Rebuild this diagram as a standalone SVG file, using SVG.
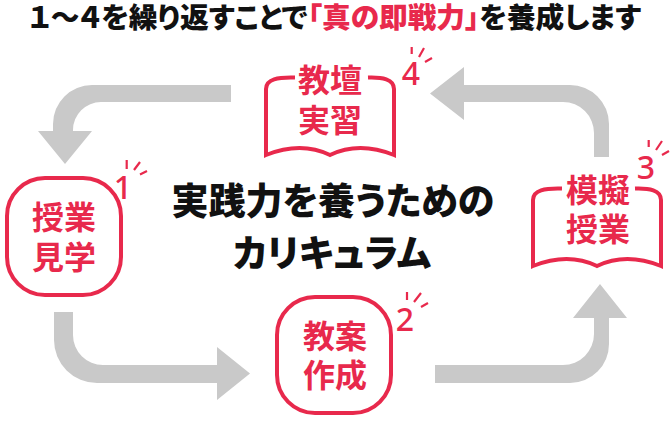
<svg xmlns="http://www.w3.org/2000/svg" width="671" height="421" viewBox="0 0 671 421">
<style>
text{font-family:"Noto Sans CJK JP","Noto Sans",sans-serif;text-anchor:middle}
.t{font-weight:900;font-size:28.700px;fill:#111;font-feature-settings:"palt"}
.c{font-weight:900;font-size:37px;fill:#111;font-feature-settings:"palt"}
.n{font-weight:700;font-size:32px;fill:#e8294c}
.d{font-family:"Noto Sans","Liberation Sans",sans-serif;font-weight:500;font-size:32px;fill:#e8294c}
.box{fill:#fff;stroke:#e8294c;stroke-width:4}
.book{fill:none;stroke:#e8294c;stroke-width:4}
.s{fill:none;stroke:#e8294c;stroke-width:2.2}
.a{fill:#c9c9c9}
</style>
<defs>
<path id="bk" class="book" d="M562 188.500C545 188 533 190 533 200V266Q568 252 597 266Q626 252 661 266V200C661 190 649 188 635 188.500"/>
</defs>
<rect width="671" height="421" fill="#fff"/>
<text class="t" x="335" y="28">１～４を繰り返すことで<tspan fill="#e8294c">「真の即戦力」</tspan>を養成します</text>
<g id="connectors">
<path class="a" d="M231 85H92A39 39 0 0 0 53 124V131H38L65 164L92 131H73V130A28 28 0 0 1 101 102H231Z"/>
<path class="a" d="M54 312H73V335A30 30 0 0 0 103 365H217V347L250 373.500L217 400V383H97A43 43 0 0 1 54 340Z"/>
<path class="a" d="M435 365H563A31 31 0 0 0 594 334V318H573L600 284L627 318H609V344A39 39 0 0 1 570 383H435Z"/>
<path class="a" d="M430 93.500L464 67V85H570A39 39 0 0 1 609 124V157H594V133A31 31 0 0 0 563 102H464V120Z"/>
</g>
<g id="node1"><rect class="box" x="7" y="178" width="114" height="117" rx="38"/><text class="n" x="64" y="229">授業</text><text class="n" x="64" y="269">見学</text><text class="d" x="123" y="199">1</text><path class="s" d="M126.700 160V169M140 162L134 170M147 171L140 174.500"/></g>
<g id="node2"><rect class="box" x="277" y="297" width="114" height="116" rx="38"/><text class="n" x="335" y="348">教案</text><text class="n" x="335" y="387">作成</text><text class="d" x="405" y="331">2</text><path class="s" d="M407 292V300M421 293L414 302M428 303L421 307"/></g>
<g id="node3"><use href="#bk"/><text class="n" x="598" y="202">模擬</text><text class="n" x="598" y="241">授業</text><text class="d" x="646" y="179">3</text><path class="s" d="M648.700 140V147M662 141L656 150M669 151L662 155"/></g>
<g id="node4"><use href="#bk" transform="translate(-267 -111)"/><text class="n" x="330" y="92">教壇</text><text class="n" x="330" y="132">実習</text><text class="d" x="411" y="85">4</text><path class="s" d="M411.700 47V54M424 48L419 57M432 58L425 62"/></g>
<text class="c" x="333" y="215">実践力を養うための</text>
<text class="c" x="332" y="267">カリキュラム</text>
</svg>
